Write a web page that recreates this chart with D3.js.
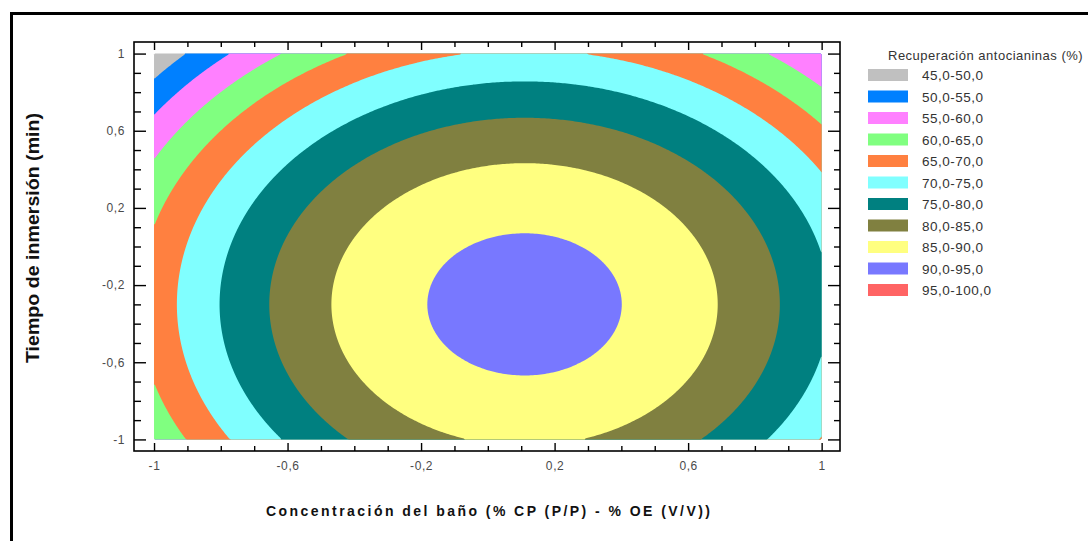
<!DOCTYPE html>
<html>
<head>
<meta charset="utf-8">
<script src="https://cdn.jsdelivr.net/npm/d3@7"></script>
<style>
  body { margin: 0; background: #fff; }
  text { font-family: 'Liberation Sans', Arial, sans-serif; }
</style>
</head>
<body>
<svg id="contourChart" width="1088" height="541"></svg>
<script>
// legend bands (lower bound of each band, label, colour)
var bandLower = [45, 50, 55, 60, 65, 70, 75, 80, 85, 90, 95]
var bandLabels = ['45,0-50,0', '50,0-55,0', '55,0-60,0', '60,0-65,0', '65,0-70,0', '70,0-75,0',
  '75,0-80,0', '80,0-85,0', '85,0-90,0', '90,0-95,0', '95,0-100,0']
var bandColors = ['#c0c0c0', '#0080ff', '#ff80ff', '#80ff80', '#ff8040', '#80ffff',
  '#008080', '#808040', '#ffff80', '#7878ff', '#ff6464']

// fitted response surface (coded units), terms: 1, x, y, x^2, y^2, xy
var modelCoefs = [90.33, 4.4, -7.5, -20.0, -12.5, 0]

var tickMajor = [-1, -0.6, -0.2, 0.2, 0.6, 1]
var tickLabels = ['-1', '-0,6', '-0,2', '0,2', '0,6', '1']
var tickMinor = [-0.9, -0.8, -0.7, -0.5, -0.4, -0.3, -0.1, 0, 0.1, 0.3, 0.4, 0.5, 0.7, 0.8, 0.9]

var svg = d3.select('#contourChart')

// outer frame
svg.append('rect').attr('x', 11.5).attr('y', 13.5).attr('width', 1200).attr('height', 700)
  .attr('fill', 'none').attr('stroke', '#000').attr('stroke-width', 3)

var boxL = 134, boxR = 840, boxT = 42, boxB = 451

var x = d3.scaleLinear().domain([-1.06, 1.055]).range([boxL, boxR])
var y = d3.scaleLinear().domain([-1.06, 1.06]).range([boxB, boxT])

function response(a, b) {
  var c = modelCoefs
  return c[0] + c[1] * a + c[2] * b + c[3] * a * a + c[4] * b * b + c[5] * a * b
}

// sample the surface on a grid over [-1,1] x [-1,1]
var nx = 334, ny = 193
var values = new Array(nx * ny)
for (var j = 0; j < ny; j++) {
  for (var i = 0; i < nx; i++) {
    values[i + j * nx] = response(-1 + 2 * (i + 0.5) / nx, 1 - 2 * (j + 0.5) / ny)
  }
}

var contours = d3.contours().size([nx, ny]).thresholds(bandLower)(values)

var proj = d3.geoTransform({
  point: function (gx, gy) {
    this.stream.point(x(-1 + 2 * gx / nx), y(1 - 2 * gy / ny))
  }
})
var path = d3.geoPath(proj)

svg.append('g').selectAll('path')
  .data(contours)
  .enter().append('path')
  .attr('d', path)
  .attr('fill', function (d) { return bandColors[bandLower.indexOf(d.value)] })

// axes box
svg.append('rect').attr('x', boxL).attr('y', boxT).attr('width', boxR - boxL).attr('height', boxB - boxT)
  .attr('fill', 'none').attr('stroke', '#000').attr('stroke-width', 1.6)

function styleAxis(g) {
  g.select('.domain').remove()
  g.selectAll('line').attr('stroke', '#000').attr('stroke-width', 1.4)
  g.selectAll('text').attr('fill', '#4a4a4a').style('font-size', '12px').style('letter-spacing', '0.6px')
}

var fmt = function (d) { return tickLabels[tickMajor.indexOf(d)] }

svg.append('g').attr('transform', 'translate(0,' + boxB + ')')
  .call(d3.axisBottom(x).tickValues(tickMajor).tickSize(-8).tickPadding(10).tickFormat(fmt)).call(styleAxis)
svg.append('g').attr('transform', 'translate(0,' + boxB + ')')
  .call(d3.axisBottom(x).tickValues(tickMinor).tickSize(-5).tickFormat('')).call(styleAxis)
svg.append('g').attr('transform', 'translate(0,' + boxT + ')')
  .call(d3.axisTop(x).tickValues(tickMajor).tickSize(-8).tickFormat('')).call(styleAxis)
svg.append('g').attr('transform', 'translate(0,' + boxT + ')')
  .call(d3.axisTop(x).tickValues(tickMinor).tickSize(-5).tickFormat('')).call(styleAxis)

svg.append('g').attr('transform', 'translate(' + boxL + ',0)')
  .call(d3.axisLeft(y).tickValues(tickMajor).tickSize(-12).tickPadding(9).tickFormat(fmt)).call(styleAxis)
svg.append('g').attr('transform', 'translate(' + boxL + ',0)')
  .call(d3.axisLeft(y).tickValues(tickMinor).tickSize(-7).tickFormat('')).call(styleAxis)
svg.append('g').attr('transform', 'translate(' + boxR + ',0)')
  .call(d3.axisRight(y).tickValues(tickMajor).tickSize(-12).tickFormat('')).call(styleAxis)
svg.append('g').attr('transform', 'translate(' + boxR + ',0)')
  .call(d3.axisRight(y).tickValues(tickMinor).tickSize(-6).tickFormat('')).call(styleAxis)

// axis titles
svg.append('text')
  .attr('transform', 'translate(39,238) rotate(-90)')
  .attr('text-anchor', 'middle')
  .attr('textLength', 250).attr('lengthAdjust', 'spacingAndGlyphs')
  .style('font-size', '18px').style('font-weight', 'bold').attr('fill', '#111')
  .text('Tiempo de inmersión (min)')

svg.append('text')
  .attr('x', 488).attr('y', 516)
  .attr('text-anchor', 'middle')
  .attr('textLength', 444).attr('lengthAdjust', 'spacing')
  .style('font-size', '14px').style('font-weight', 'bold').attr('fill', '#111')
  .text('Concentración del baño (% CP (P/P) - % OE (V/V))')

// legend
var legend = svg.append('g')
legend.append('text').attr('x', 888).attr('y', 60)
  .style('font-size', '13px').style('letter-spacing', '0.5px').attr('fill', '#333')
  .text('Recuperación antocianinas (%)')

var lineHeight = 21.5
var items = legend.selectAll('.item')
  .data(bandLabels)
  .enter().append('g')
  .attr('class', 'item')
  .attr('transform', function (d, k) { return 'translate(0,' + (75 + k * lineHeight) + ')' })

items.append('rect')
  .attr('x', 868).attr('y', -6).attr('width', 40).attr('height', 12)
  .attr('fill', function (d, k) { return bandColors[k] })
items.append('text')
  .attr('x', 922).attr('y', 5)
  .style('font-size', '13.5px').style('letter-spacing', '0.5px').attr('fill', '#333')
  .text(function (d) { return d })
</script>
</body>
</html>
